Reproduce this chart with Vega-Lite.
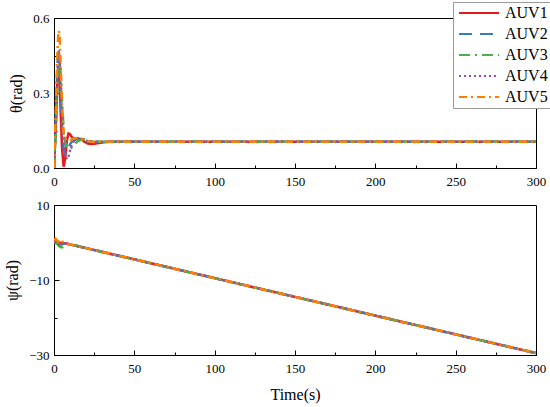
{
  "$schema": "https://vega.github.io/schema/vega-lite/v6.json",
  "background": "white",
  "padding": {"left": 4, "top": 1, "right": 2, "bottom": 2},
  "spacing": 9,
  "datasets": {
    "theta": [
      {"t": 0, "AUV1": 0, "AUV2": 0, "AUV3": 0, "AUV4": 0, "AUV5": 0},
      {"t": 1, "AUV1": 0.15, "AUV2": 0.17, "AUV3": 0.12, "AUV4": 0.16, "AUV5": 0.2},
      {"t": 2, "AUV1": 0.34, "AUV2": 0.38, "AUV3": 0.3, "AUV4": 0.36, "AUV5": 0.44},
      {"t": 2.5, "AUV1": 0.4, "AUV2": 0.45, "AUV3": 0.37, "AUV4": 0.43, "AUV5": 0.52},
      {"t": 3, "AUV1": 0.41, "AUV2": 0.47, "AUV3": 0.42, "AUV4": 0.46, "AUV5": 0.55},
      {"t": 3.5, "AUV1": 0.36, "AUV2": 0.43, "AUV3": 0.43, "AUV4": 0.45, "AUV5": 0.53},
      {"t": 4, "AUV1": 0.25, "AUV2": 0.33, "AUV3": 0.39, "AUV4": 0.38, "AUV5": 0.44},
      {"t": 5, "AUV1": 0.08, "AUV2": 0.17, "AUV3": 0.27, "AUV4": 0.22, "AUV5": 0.26},
      {"t": 6, "AUV1": 0.005, "AUV2": 0.08, "AUV3": 0.15, "AUV4": 0.1, "AUV5": 0.14},
      {"t": 7, "AUV1": 0.04, "AUV2": 0.055, "AUV3": 0.1, "AUV4": 0.05, "AUV5": 0.118},
      {"t": 8, "AUV1": 0.11, "AUV2": 0.06, "AUV3": 0.08, "AUV4": 0.035, "AUV5": 0.11},
      {"t": 9, "AUV1": 0.138, "AUV2": 0.08, "AUV3": 0.075, "AUV4": 0.045, "AUV5": 0.108},
      {"t": 10, "AUV1": 0.135, "AUV2": 0.095, "AUV3": 0.077, "AUV4": 0.07, "AUV5": 0.11},
      {"t": 11, "AUV1": 0.125, "AUV2": 0.105, "AUV3": 0.082, "AUV4": 0.09, "AUV5": 0.114},
      {"t": 12, "AUV1": 0.118, "AUV2": 0.11, "AUV3": 0.09, "AUV4": 0.104, "AUV5": 0.117},
      {"t": 13, "AUV1": 0.116, "AUV2": 0.113, "AUV3": 0.097, "AUV4": 0.112, "AUV5": 0.119},
      {"t": 14, "AUV1": 0.117, "AUV2": 0.115, "AUV3": 0.103, "AUV4": 0.117, "AUV5": 0.12},
      {"t": 15, "AUV1": 0.118, "AUV2": 0.117, "AUV3": 0.108, "AUV4": 0.119, "AUV5": 0.12},
      {"t": 17, "AUV1": 0.115, "AUV2": 0.116, "AUV3": 0.114, "AUV4": 0.117, "AUV5": 0.116},
      {"t": 19, "AUV1": 0.105, "AUV2": 0.11, "AUV3": 0.115, "AUV4": 0.112, "AUV5": 0.111},
      {"t": 21, "AUV1": 0.098, "AUV2": 0.106, "AUV3": 0.112, "AUV4": 0.107, "AUV5": 0.107},
      {"t": 23, "AUV1": 0.096, "AUV2": 0.104, "AUV3": 0.108, "AUV4": 0.105, "AUV5": 0.105},
      {"t": 25, "AUV1": 0.097, "AUV2": 0.104, "AUV3": 0.106, "AUV4": 0.105, "AUV5": 0.105},
      {"t": 28, "AUV1": 0.1, "AUV2": 0.105, "AUV3": 0.105, "AUV4": 0.105, "AUV5": 0.105},
      {"t": 31, "AUV1": 0.103, "AUV2": 0.105, "AUV3": 0.105, "AUV4": 0.105, "AUV5": 0.105},
      {"t": 35, "AUV1": 0.105, "AUV2": 0.105, "AUV3": 0.105, "AUV4": 0.105, "AUV5": 0.105},
      {"t": 50, "AUV1": 0.105, "AUV2": 0.105, "AUV3": 0.105, "AUV4": 0.105, "AUV5": 0.105},
      {"t": 100, "AUV1": 0.105, "AUV2": 0.105, "AUV3": 0.105, "AUV4": 0.105, "AUV5": 0.105},
      {"t": 150, "AUV1": 0.105, "AUV2": 0.105, "AUV3": 0.105, "AUV4": 0.105, "AUV5": 0.105},
      {"t": 200, "AUV1": 0.105, "AUV2": 0.105, "AUV3": 0.105, "AUV4": 0.105, "AUV5": 0.105},
      {"t": 250, "AUV1": 0.105, "AUV2": 0.105, "AUV3": 0.105, "AUV4": 0.105, "AUV5": 0.105},
      {"t": 300, "AUV1": 0.105, "AUV2": 0.105, "AUV3": 0.105, "AUV4": 0.105, "AUV5": 0.105}
    ],
    "psi": [
      {"t": 0, "AUV1": 0, "AUV2": 0, "AUV3": 0, "AUV4": 0, "AUV5": 0.6},
      {"t": 1, "AUV1": 0.2, "AUV2": 0.1, "AUV3": -0.1, "AUV4": 0, "AUV5": 1.0},
      {"t": 2, "AUV1": 0.3, "AUV2": 0, "AUV3": -0.4, "AUV4": -0.2, "AUV5": 0.5},
      {"t": 3, "AUV1": 0.1, "AUV2": -0.3, "AUV3": -0.9, "AUV4": -0.5, "AUV5": 0.2},
      {"t": 4, "AUV1": -0.1, "AUV2": -0.6, "AUV3": -1.2, "AUV4": -0.8, "AUV5": 0.9},
      {"t": 5, "AUV1": -0.2, "AUV2": -0.5, "AUV3": -1.3, "AUV4": -0.6, "AUV5": 0.3},
      {"t": 6, "AUV1": -0.2, "AUV2": -0.3, "AUV3": -1.0, "AUV4": -0.3, "AUV5": 0.0},
      {"t": 7, "AUV1": -0.2, "AUV2": -0.2, "AUV3": -0.6, "AUV4": -0.2, "AUV5": -0.2},
      {"t": 8, "AUV1": -0.3, "AUV2": -0.3, "AUV3": -0.4, "AUV4": -0.3, "AUV5": -0.3},
      {"t": 10, "AUV1": -0.5, "AUV2": -0.5, "AUV3": -0.5, "AUV4": -0.5, "AUV5": -0.5},
      {"t": 20, "AUV1": -1.5, "AUV2": -1.5, "AUV3": -1.5, "AUV4": -1.5, "AUV5": -1.5},
      {"t": 50, "AUV1": -4.5, "AUV2": -4.5, "AUV3": -4.5, "AUV4": -4.5, "AUV5": -4.5},
      {"t": 100, "AUV1": -9.5, "AUV2": -9.5, "AUV3": -9.5, "AUV4": -9.5, "AUV5": -9.5},
      {"t": 150, "AUV1": -14.5, "AUV2": -14.5, "AUV3": -14.5, "AUV4": -14.5, "AUV5": -14.5},
      {"t": 200, "AUV1": -19.5, "AUV2": -19.5, "AUV3": -19.5, "AUV4": -19.5, "AUV5": -19.5},
      {"t": 250, "AUV1": -24.5, "AUV2": -24.5, "AUV3": -24.5, "AUV4": -24.5, "AUV5": -24.5},
      {"t": 300, "AUV1": -29.5, "AUV2": -29.5, "AUV3": -29.5, "AUV4": -29.5, "AUV5": -29.5}
    ]
  },
  "vconcat": [
    {
      "width": 482,
      "height": 150,
      "data": {"name": "theta"},
      "transform": [{"fold": ["AUV1", "AUV2", "AUV3", "AUV4", "AUV5"], "as": ["AUV", "v"]}],
      "mark": {"type": "line", "strokeWidth": 2.5, "clip": true},
      "encoding": {
        "x": {
          "field": "t", "type": "quantitative",
          "scale": {"domain": [0, 300], "nice": false},
          "axis": {
            "title": null,
            "values": [0, 25, 50, 75, 100, 125, 150, 175, 200, 225, 250, 275, 300],
            "labelExpr": "datum.value % 50 === 0 ? datum.label : ''",
            "labelFont": "Liberation Serif",
            "tickSize": {"condition": {"test": "datum.value % 50 !== 0", "value": -3}, "value": -5},
            "labelPadding": 12
          }
        },
        "y": {
          "field": "v", "type": "quantitative",
          "scale": {"domain": [0, 0.6], "nice": false},
          "axis": {
            "title": "θ(rad)",
            "values": [0, 0.15, 0.3, 0.45, 0.6],
            "format": ".1f",
            "labelExpr": "datum.value === 0.15 || datum.value === 0.45 ? '' : datum.label",
            "labelFont": "Liberation Serif",
            "tickSize": {"condition": {"test": "datum.value === 0.15 || datum.value === 0.45", "value": -3}, "value": -5},
            "labelPadding": 10
          }
        },
        "color": {
          "field": "AUV", "type": "nominal",
          "scale": {"domain": ["AUV1", "AUV2", "AUV3", "AUV4", "AUV5"], "range": ["#e41a1c", "#377eb8", "#4daf4a", "#984ea3", "#ff7f00"]},
          "legend": {"orient": "none", "legendX": 399, "legendY": -16, "title": null}
        },
        "strokeDash": {
          "field": "AUV", "type": "nominal",
          "scale": {"domain": ["AUV1", "AUV2", "AUV3", "AUV4", "AUV5"], "range": [[1, 0], [13, 8], [11, 5, 2, 5], [2, 3], [8, 4, 2, 4]]},
          "legend": {"orient": "none", "legendX": 399, "legendY": -16, "title": null}
        }
      }
    },
    {
      "width": 482,
      "height": 150,
      "data": {"name": "psi"},
      "transform": [{"fold": ["AUV1", "AUV2", "AUV3", "AUV4", "AUV5"], "as": ["AUV", "v"]}],
      "mark": {"type": "line", "strokeWidth": 2.5, "clip": true},
      "encoding": {
        "x": {
          "field": "t", "type": "quantitative",
          "scale": {"domain": [0, 300], "nice": false},
          "axis": {
            "title": "Time(s)",
            "titlePadding": 11,
            "values": [0, 25, 50, 75, 100, 125, 150, 175, 200, 225, 250, 275, 300],
            "labelExpr": "datum.value % 50 === 0 ? datum.label : ''",
            "labelFont": "Liberation Serif",
            "tickSize": {"condition": {"test": "datum.value % 50 !== 0", "value": -3}, "value": -5},
            "labelPadding": 12
          }
        },
        "y": {
          "field": "v", "type": "quantitative",
          "scale": {"domain": [-30, 10], "nice": false},
          "axis": {
            "title": "ψ(rad)",
            "values": [-30, -20, -10, 0, 10],
            "labelExpr": "datum.value === -20 || datum.value === 0 ? '' : datum.label",
            "labelFont": "Liberation Serif",
            "tickSize": {"condition": {"test": "datum.value === -20 || datum.value === 0", "value": -3}, "value": -5},
            "labelPadding": 10
          }
        },
        "color": {"field": "AUV", "type": "nominal", "legend": null},
        "strokeDash": {"field": "AUV", "type": "nominal", "legend": null}
      }
    }
  ],
  "resolve": {"legend": {"color": "independent", "strokeDash": "independent"}},
  "config": {
    "font": "Liberation Serif",
    "view": {"stroke": "#000", "strokeWidth": 1},
    "style": {"guide-label": {"font": "Liberation Serif"}, "guide-title": {"font": "Liberation Serif"}},
    "axis": {
      "grid": false,
      "domainColor": "#000",
      "tickColor": "#000",
      "labelColor": "#000",
      "labelFont": "Liberation Serif",
      "labelFontSize": 13,
      "titleFont": "Liberation Serif",
      "titleFontSize": 16,
      "titleFontWeight": "normal",
      "titleColor": "#000",
      "titlePadding": 8,
      "labelFlush": false
    },
    "legend": {
      "strokeColor": "#999",
      "fillColor": "white",
      "padding": 3,
      "labelFont": "Liberation Serif",
      "labelFontSize": 16,
      "labelColor": "#000",
      "labelOffset": 33,
      "symbolType": "M-1,0H7",
      "symbolSize": 100,
      "symbolStrokeWidth": 2,
      "rowPadding": 5
    }
  }
}
